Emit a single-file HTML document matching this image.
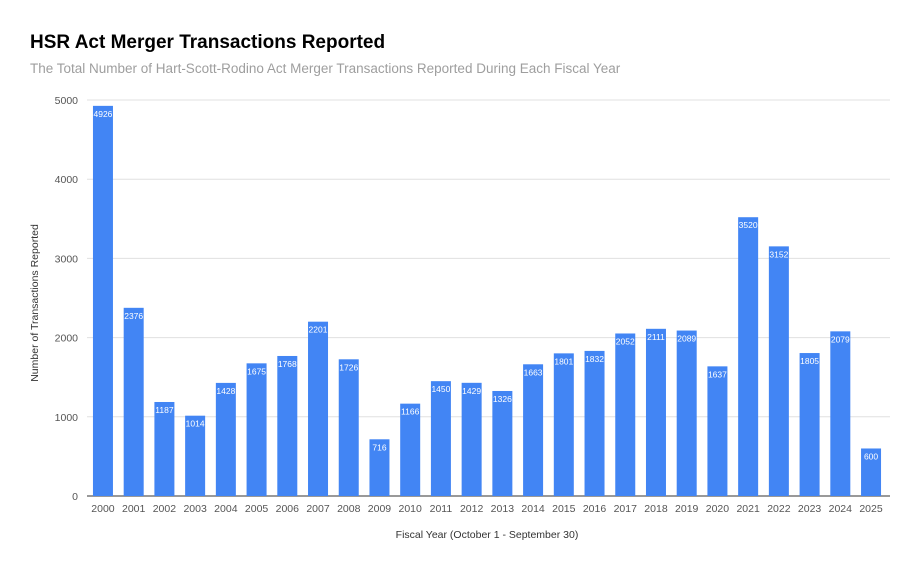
<!DOCTYPE html>
<html><head><meta charset="utf-8"><style>
body{margin:0;background:#fff;font-family:"Liberation Sans",sans-serif;}
</style></head><body>
<svg id="chart" width="920" height="568" xmlns="http://www.w3.org/2000/svg" font-family="Liberation Sans, sans-serif">
<rect width="920" height="568" fill="#fff"/>
<text x="30" y="48" font-size="19" font-weight="bold" fill="#000">HSR Act Merger Transactions Reported</text>
<text x="30" y="73" font-size="13.5" fill="#9e9e9e">The Total Number of Hart-Scott-Rodino Act Merger Transactions Reported During Each Fiscal Year</text>
<g id="grid"></g><g id="bars"></g><g id="xl"></g>
<text x="487" y="538" font-size="10.5" fill="#333" text-anchor="middle">Fiscal Year (October 1 - September 30)</text>
<text transform="translate(38,303) rotate(-90)" font-size="10.5" fill="#333" text-anchor="middle">Number of Transactions Reported</text>
</svg>
<script>
const years=["2000","2001","2002","2003","2004","2005","2006","2007","2008","2009","2010","2011","2012","2013","2014","2015","2016","2017","2018","2019","2020","2021","2022","2023","2024","2025"];
const values=[4926,2376,1187,1014,1428,1675,1768,2201,1726,716,1166,1450,1429,1326,1663,1801,1832,2052,2111,2089,1637,3520,3152,1805,2079,600];
const yTicks=[0,1000,2000,3000,4000,5000];
const NS="http://www.w3.org/2000/svg";
const x0=87.6,x1=886.4,yTop=100,yBot=496,yMax=5000;
const band=(x1-x0)/years.length;
const xs=i=>x0+band*(i+0.5);
const ys=v=>yBot-(v/yMax)*(yBot-yTop);
function mk(tag,attrs,parent,txt){const e=document.createElementNS(NS,tag);for(const k in attrs)e.setAttribute(k,attrs[k]);if(txt!==undefined)e.textContent=txt;parent.appendChild(e);return e;}
const grid=document.getElementById('grid'),bars=document.getElementById('bars'),xl=document.getElementById('xl');
yTicks.forEach(t=>{
  const l=mk('line',{x1:87,x2:890,y1:ys(t),y2:ys(t),stroke:t===0?'#333':'#e0e0e0','stroke-width':1},grid);
  
  
  const tx=mk('text',{x:78,y:ys(t)+4,'font-size':10.5,fill:'#555','text-anchor':'end'},grid,String(t));
  
  
});
values.forEach((v,i)=>{
  const r=mk('rect',{x:xs(i)-10,y:ys(v),width:20,height:yBot-ys(v),fill:'#4285f4'},bars);
  
  
  const lb=mk('text',{x:xs(i),y:ys(v)+11,'font-size':8.5,fill:'#fff','text-anchor':'middle'},bars,String(v));
  
  
  const xt=mk('text',{x:xs(i),y:512,'font-size':10.5,fill:'#555','text-anchor':'middle'},xl,years[i]);
  
  
});
</script>
</body></html>
